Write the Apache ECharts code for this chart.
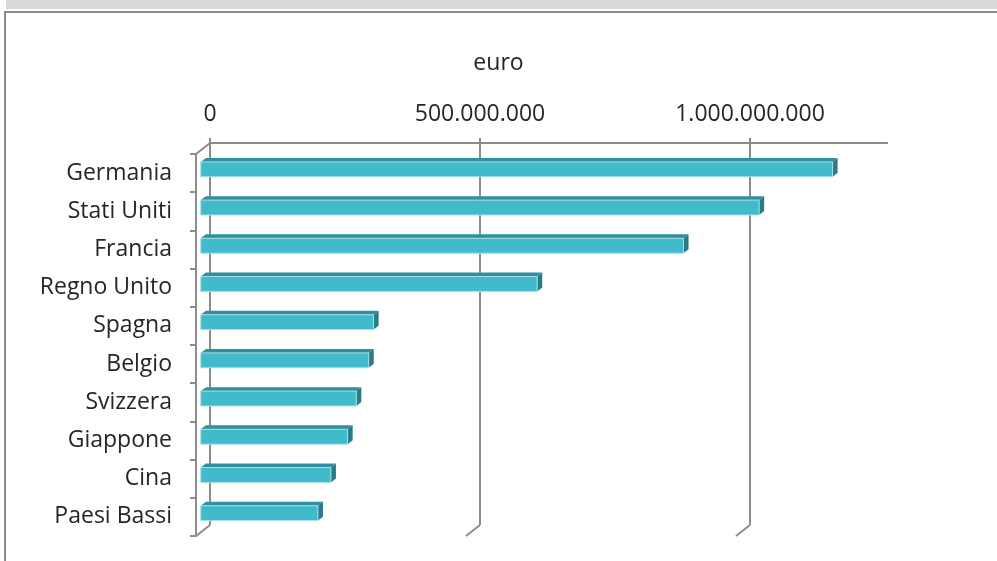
<!DOCTYPE html>
<html>
<head>
<meta charset="utf-8">
<script src="https://cdn.jsdelivr.net/npm/echarts@6/dist/echarts.min.js"></script>
<style>
  html, body { margin: 0; padding: 0; background: #ffffff; }
  #chart { width: 997px; height: 561px; }
</style>
</head>
<body>
<div id="chart"></div>
<script>
// Export value by destination country (euro)
const categories = ['Germania', 'Stati Uniti', 'Francia', 'Regno Unito', 'Spagna',
                    'Belgio', 'Svizzera', 'Giappone', 'Cina', 'Paesi Bassi'];
const values = [1170000000, 1034000000, 894000000, 623000000, 320000000,
                311000000, 288000000, 272000000, 241000000, 217000000];
const tickValues = [0, 500000000, 1000000000];
const axisMax = 1254000000;
const axisTitle = 'euro';

// Oblique 3D look: pixel offset from the front plane to the back wall
const DEPTH_X = 14, DEPTH_Y = -11;
const BAR_NEAR = 0.34, BAR_FAR = 0.70;   // bar slab position inside the depth
const BAR_FACE = 0.39;                    // front face height relative to band

const FONT = '"Open Sans", sans-serif';
const TEXT = '#262626';
const LINE = '#8c8c8c';

const PX_PER_UNIT = 0.54e-6;
const plotW = axisMax * PX_PER_UNIT;
const plotH = 382;

function fmt(v) {
  if (tickValues.indexOf(v) < 0) return '';
  return String(Math.round(v)).replace(/\B(?=(\d{3})+(?!\d))/g, '.');
}

const chart = echarts.init(document.getElementById('chart'));

function barItem(params, api) {
  const v = api.value(0), i = api.value(1);
  const p0 = api.coord([0, i]);
  const p1 = api.coord([v, i]);
  const band = api.size([0, 1])[1];
  const half = band * BAR_FACE / 2;
  const ax = DEPTH_X * BAR_NEAR, ay = DEPTH_Y * BAR_NEAR;
  const bx = DEPTH_X * BAR_FAR, by = DEPTH_Y * BAR_FAR;
  const x0 = p0[0], x1 = p1[0];
  const yT = p0[1] - half, yB = p0[1] + half;
  return {
    type: 'group',
    children: [
      { type: 'polygon',
        shape: { points: [[x0 + ax, yT + ay], [x1 + ax, yT + ay], [x1 + bx, yT + by], [x0 + bx, yT + by]] },
        style: { fill: '#31909d' } },
      { type: 'polygon',
        shape: { points: [[x1 + ax, yT + ay], [x1 + bx, yT + by], [x1 + bx, yB + by], [x1 + ax, yB + ay]] },
        style: { fill: '#2b7b86' } },
      { type: 'rect',
        shape: { x: x0 + ax, y: yT + ay, width: x1 - x0, height: yB - yT },
        style: { fill: '#41bbcb', stroke: '#a8dfe6', lineWidth: 1 } }
    ]
  };
}

// Back-wall gridline for one tick value: tick above the axis, vertical line
// down the wall, then the floor edge running forward to the front plane
function wallItem(params, api) {
  const v = api.value(0);
  const band = api.size([0, 1])[1];
  const top = api.coord([v, 0]);
  const bot = api.coord([v, categories.length - 1]);
  const x = top[0];
  const yTop = top[1] - band / 2;
  const yBot = bot[1] + band / 2;
  const style = { stroke: LINE, lineWidth: 2 };
  return {
    type: 'group',
    children: [
      { type: 'line', shape: { x1: x, y1: yTop - 5, x2: x, y2: yBot }, style: style },
      { type: 'line', shape: { x1: x, y1: yBot, x2: x - DEPTH_X, y2: yBot - DEPTH_Y }, style: style }
    ]
  };
}

// Top-left edge joining the front category axis to the back wall
function cornerItem(params, api) {
  const band = api.size([0, 1])[1];
  const c = api.coord([0, 0]);
  const y = c[1] - band / 2;
  return {
    type: 'line',
    shape: { x1: c[0], y1: y, x2: c[0] + DEPTH_X, y2: y + DEPTH_Y },
    style: { stroke: LINE, lineWidth: 2 }
  };
}

chart.setOption({
  animation: false,
  title: {
    text: axisTitle,
    left: 'center',
    top: 47,
    textStyle: { fontFamily: FONT, fontSize: 23, fontWeight: 'normal', color: TEXT }
  },
  graphic: [
    { type: 'rect', shape: { x: 6, y: 0, width: 991, height: 9 }, style: { fill: '#d9d9d9' }, silent: true },
    { type: 'rect', shape: { x: 5, y: 12, width: 1010, height: 620 }, style: { fill: 'none', stroke: LINE, lineWidth: 2 }, silent: true }
  ],
  grid: [
    { left: 196 + DEPTH_X, top: 154 + DEPTH_Y, width: plotW, height: plotH },   // back wall
    { left: 196, top: 154, width: plotW, height: plotH }                        // front plane
  ],
  xAxis: [
    {
      gridIndex: 0, type: 'value', position: 'top', min: 0, max: axisMax, interval: 500000000,
      axisLine: { show: true, lineStyle: { color: LINE, width: 2 } },
      axisTick: { show: false },
      axisLabel: { showMaxLabel: false, formatter: fmt, margin: 17,
                   fontFamily: FONT, fontSize: 23, color: TEXT },
      splitLine: { show: false }
    },
    {
      gridIndex: 1, type: 'value', min: 0, max: axisMax, show: false
    }
  ],
  yAxis: [
    { gridIndex: 0, type: 'category', data: categories, inverse: true, show: false },
    {
      gridIndex: 1, type: 'category', data: categories, inverse: true,
      axisLine: { show: true, lineStyle: { color: LINE, width: 2 } },
      axisTick: { show: true, length: 6, lineStyle: { color: LINE, width: 2 } },
      axisLabel: { margin: 24, fontFamily: FONT, fontSize: 23, color: TEXT },
      splitLine: { show: false }
    }
  ],
  series: [
    {
      type: 'custom', name: 'wall', xAxisIndex: 0, yAxisIndex: 0,
      renderItem: wallItem, data: tickValues.map(v => [v]), silent: true, z: 1
    },
    {
      type: 'custom', name: 'corner', xAxisIndex: 1, yAxisIndex: 1,
      renderItem: cornerItem, data: [[0, 0]], silent: true, z: 1
    },
    {
      type: 'custom', name: 'euro', xAxisIndex: 1, yAxisIndex: 1,
      renderItem: barItem, data: values.map((v, i) => [v, i]), z: 3
    }
  ]
});
</script>
</body>
</html>
